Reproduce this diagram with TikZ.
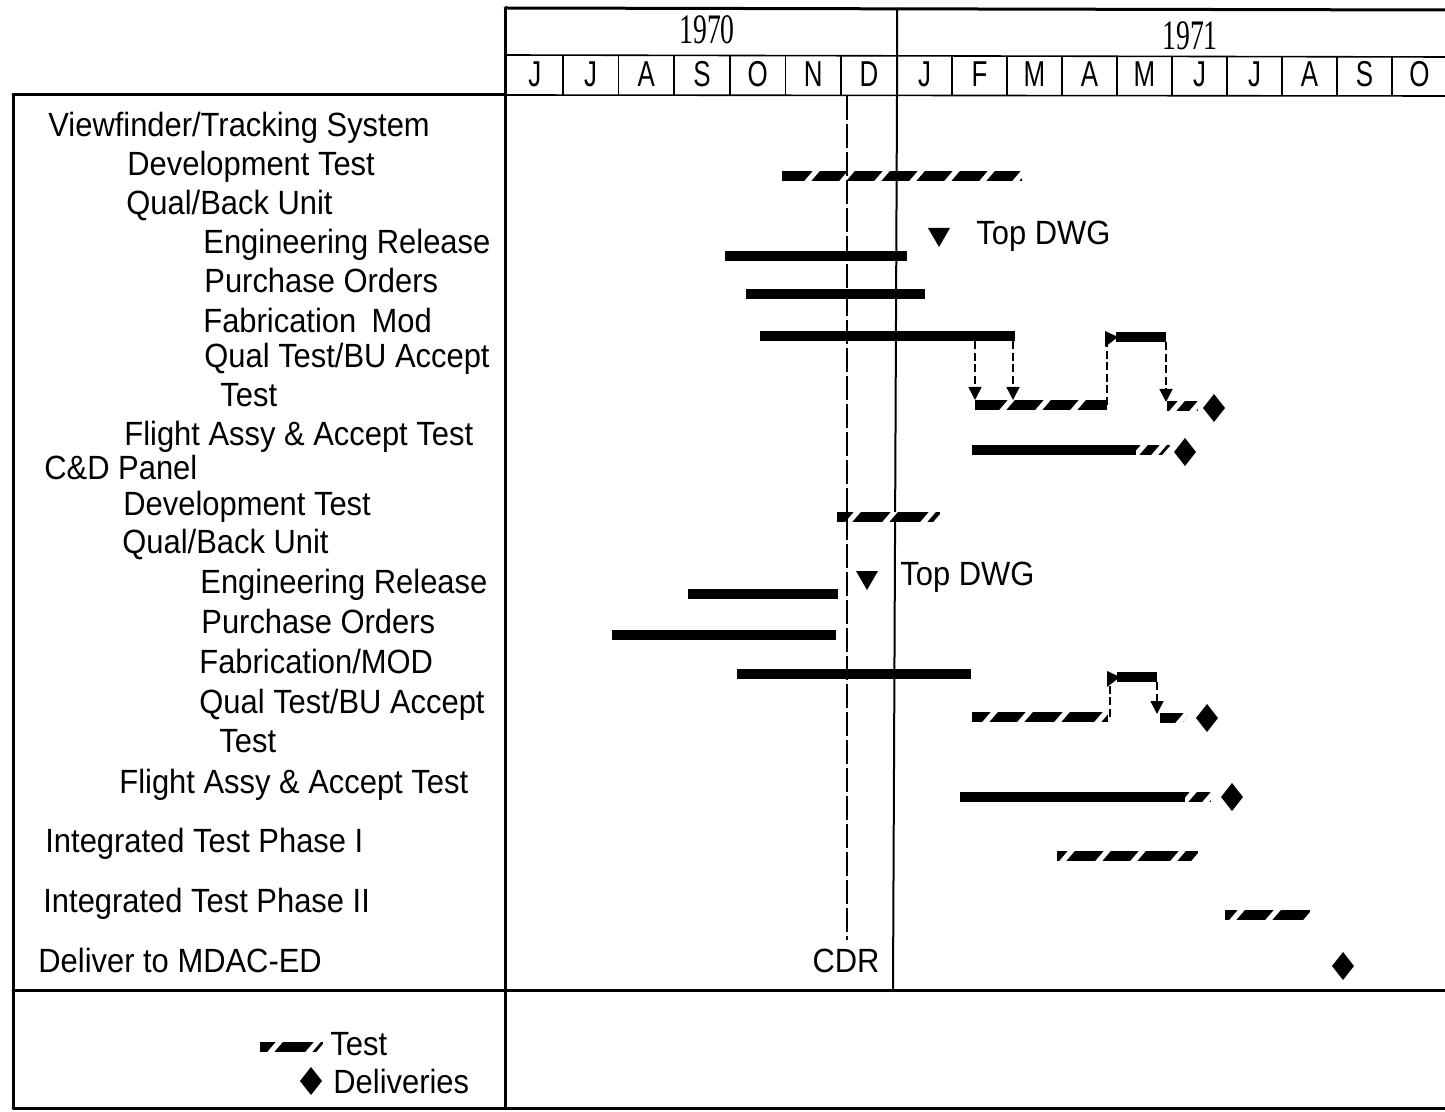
\documentclass[tikz,border=0pt]{standalone}
\usepackage{fontspec}
\setmainfont{Liberation Sans}
\newfontfamily\yearfont{Liberation Serif}
\usetikzlibrary{arrows.meta}

% test bar: x1, x2, y, list of slanted gap positions
\newcommand{\testbar}[4]{%
  \begin{scope}
    \clip (#1,#3-5) rectangle (#2,#3+5);
    \fill (#1,#3-5) rectangle (#2,#3+5);
    \foreach \xx in {#4} {
      \draw[white, line width=2.6pt] (\xx-6,#3+7) -- (\xx+6,#3-7);
    }
  \end{scope}}
\newcommand{\delivery}[2]{%
  \fill (#1,#2-14) -- (#1+11,#2) -- (#1,#2+14) -- (#1-11,#2) -- cycle;}
\newcommand{\topdwg}[2]{%
  \fill (#1-11,#2) -- (#1+11,#2) -- (#1,#2+19) -- cycle;}
\newcommand{\lt}[1]{\scalebox{0.92}[1]{#1}}

\begin{document}
\begin{tikzpicture}[x=0.5pt,y=-0.5pt,
  frame/.style={line width=1.5pt, line cap=round},
  thinline/.style={line width=0.8pt},
  lbl/.style={anchor=base west, inner sep=0pt, font=\fontsize{16.8}{19}\selectfont},
  mon/.style={anchor=base, inner sep=0pt, font=\fontsize{18}{20}\selectfont},
  yr/.style={anchor=base, inner sep=0pt, font=\yearfont\fontsize{21}{22}\selectfont},
  solidbar/.style={line width=5pt},
  flow/.style={line width=0.8pt, dash pattern=on 4pt off 1.8pt, -{Triangle[length=6.5pt,width=6.5pt]}},
  flowplain/.style={line width=0.8pt, dash pattern=on 4pt off 1.8pt},
  cdr/.style={line width=1.4pt, dash pattern=on 12pt off 2pt}
]
\useasboundingbox (0,0) rectangle (1445,1112);
\fill[white] (0,0) rectangle (1445,1112);

% ---------- frame ----------
\draw[frame] (505,8) -- (1445,10);
\draw[frame] (505,8) -- (505,1108);
\draw[frame] (13,95) -- (505,95);
\draw[frame] (13,95) -- (13,1108);
\draw[frame] (13,1108) -- (1445,1108);
\draw[frame] (13,990) -- (1445,990);
\draw[thinline] (505,55) -- (1445,57);
\draw[thinline] (505,95) -- (1445,96);
% year divider
\draw[line width=1pt] (897,8) -- (897,95) -- (893,990);
% month dividers
\foreach \xx in {562.7,618.4,674.1,729.8,785.5,841.2} {\draw[thinline] (\xx,55) -- (\xx,95);}
\foreach \xx in {952,1007,1062,1117,1172,1227,1282,1337,1392} {\draw[thinline] (\xx,56) -- (\xx,96);}

% ---------- header text ----------
\node[yr] (y1970) at (707,44) {\scalebox{0.66}[1]{1970}};
\node[yr] (y1971) at (1190,50) {\scalebox{0.66}[1]{1971}};
\foreach \c/\m/\nm in {534.8/J/m1,590.5/J/m2,646.2/A/m3,701.9/S/m4,757.6/O/m5,813.3/N/m6,869/D/m7,
  924.5/J/m8,979.5/F/m9,1034.5/M/m10,1089.5/A/m11,1144.5/M/m12,1199.5/J/m13,1254.5/J/m14,1309.5/A/m15,1364.5/S/m16,1419.5/O/m17}
  {\node[mon] (\nm) at (\c,87) {\scalebox{0.72}[1]{\m}};}

% ---------- row labels ----------
\node[lbl] (r1) at (48,137) {\lt{Viewfinder/Tracking System}};
\node[lbl] (r2) at (127,176) {\lt{Development Test}};
\node[lbl] (r3) at (126,215) {\lt{Qual/Back Unit}};
\node[lbl] (r4) at (203,254) {\lt{Engineering Release}};
\node[lbl] (r5) at (204,293) {\lt{Purchase Orders}};
\node[lbl] (r6) at (203,333) {\lt{Fabrication\hspace{0.5em}Mod}};
\node[lbl] (r7) at (204,368) {\lt{Qual Test/BU Accept}};
\node[lbl] (r8) at (220,407) {\lt{Test}};
\node[lbl] (r9) at (124,445) {\lt{Flight Assy \& Accept Test}};
\node[lbl] (r10) at (44,480) {\lt{C\&D Panel}};
\node[lbl] (r11) at (123,515) {\lt{Development Test}};
\node[lbl] (r12) at (122,553) {\lt{Qual/Back Unit}};
\node[lbl] (r13) at (200,593) {\lt{Engineering Release}};
\node[lbl] (r14) at (201,633) {\lt{Purchase Orders}};
\node[lbl] (r15) at (199,673) {\lt{Fabrication/MOD}};
\node[lbl] (r16) at (199,713) {\lt{Qual Test/BU Accept}};
\node[lbl] (r17) at (219,752) {\lt{Test}};
\node[lbl] (r18) at (119,793) {\lt{Flight Assy \& Accept Test}};
\node[lbl] (r19) at (45,852) {\lt{Integrated Test Phase I}};
\node[lbl] (r20) at (43,912) {\lt{Integrated Test Phase II}};
\node[lbl] (r21) at (38,972) {\lt{Deliver to MDAC-ED}};

% ---------- Viewfinder/Tracking bars ----------
\testbar{782}{1022}{176}{812,847,882,917,952,987,1020}
\topdwg{939}{228}
\node[lbl] (tdwg1) at (976,245) {\lt{Top DWG}};
\draw[solidbar] (725,256) -- (907,256);
\draw[solidbar] (746,294) -- (925,294);
\draw[solidbar] (760,336) -- (1015,336);
\draw[solidbar] (1116,337) -- (1166,337);
\fill (1105,331) -- (1118,337) -- (1105,347) -- cycle;
\testbar{975}{1107}{405}{1007,1043,1078}
\testbar{1167}{1198}{406}{1177,1197}
\delivery{1214}{408}
\coordinate (a1s) at (975,341); \coordinate (a1e) at (975,400);
\coordinate (a2s) at (1013,341); \coordinate (a2e) at (1013,400);
\coordinate (a3s) at (1107,405); \coordinate (a3e) at (1107,341);
\coordinate (a4s) at (1166,342); \coordinate (a4e) at (1166,402);
\draw[flow] (a1s) -- (a1e);
\draw[flow] (a2s) -- (a2e);
\draw[flowplain] (a3s) -- (a3e);
\draw[flow] (a4s) -- (a4e);
\draw[solidbar] (972,450) -- (1138,450);
\testbar{1136}{1170}{450}{1140,1159,1170}
\delivery{1185}{452}

% ---------- C&D Panel bars ----------
\testbar{837}{940}{517}{853,890,928,941}
\topdwg{867}{571}
\node[lbl] (tdwg2) at (900,585) {\lt{Top DWG}};
\draw[solidbar] (688,594) -- (838,594);
\draw[solidbar] (612,635) -- (836,635);
\draw[solidbar] (737,674) -- (971,674);
\testbar{972}{1108}{717}{990,1025,1062,1102}
\draw[solidbar] (1117,677) -- (1157,677);
\fill (1107,671) -- (1120,677) -- (1107,687) -- cycle;
\coordinate (b1s) at (1110,717); \coordinate (b1e) at (1110,683);
\coordinate (b2s) at (1157,682); \coordinate (b2e) at (1157,714);
\draw[flowplain] (b1s) -- (b1e);
\draw[flow] (b2s) -- (b2e);
\testbar{1160}{1188}{718}{1183,1190}
\delivery{1207}{718}
\draw[solidbar] (960,797) -- (1187,797);
\testbar{1185}{1211}{797}{1189,1210}
\delivery{1232}{797}

% ---------- integrated tests / delivery ----------
\testbar{1057}{1198}{856}{1067,1103,1138,1178,1199}
\testbar{1225}{1310}{915}{1237,1273,1311}
\delivery{1343}{966}

% ---------- CDR ----------
\draw[cdr] (847,96) -- (847,940);
\node[lbl, anchor=base] (cdr) at (846,972) {\lt{CDR}};

% ---------- legend ----------
\testbar{260}{323}{1047}{275,313,324}
\node[lbl] (ltest) at (330,1055) {\lt{Test}};
\delivery{311}{1081}
\node[lbl] (ldel) at (333,1093) {\lt{Deliveries}};
\end{tikzpicture}
\end{document}
